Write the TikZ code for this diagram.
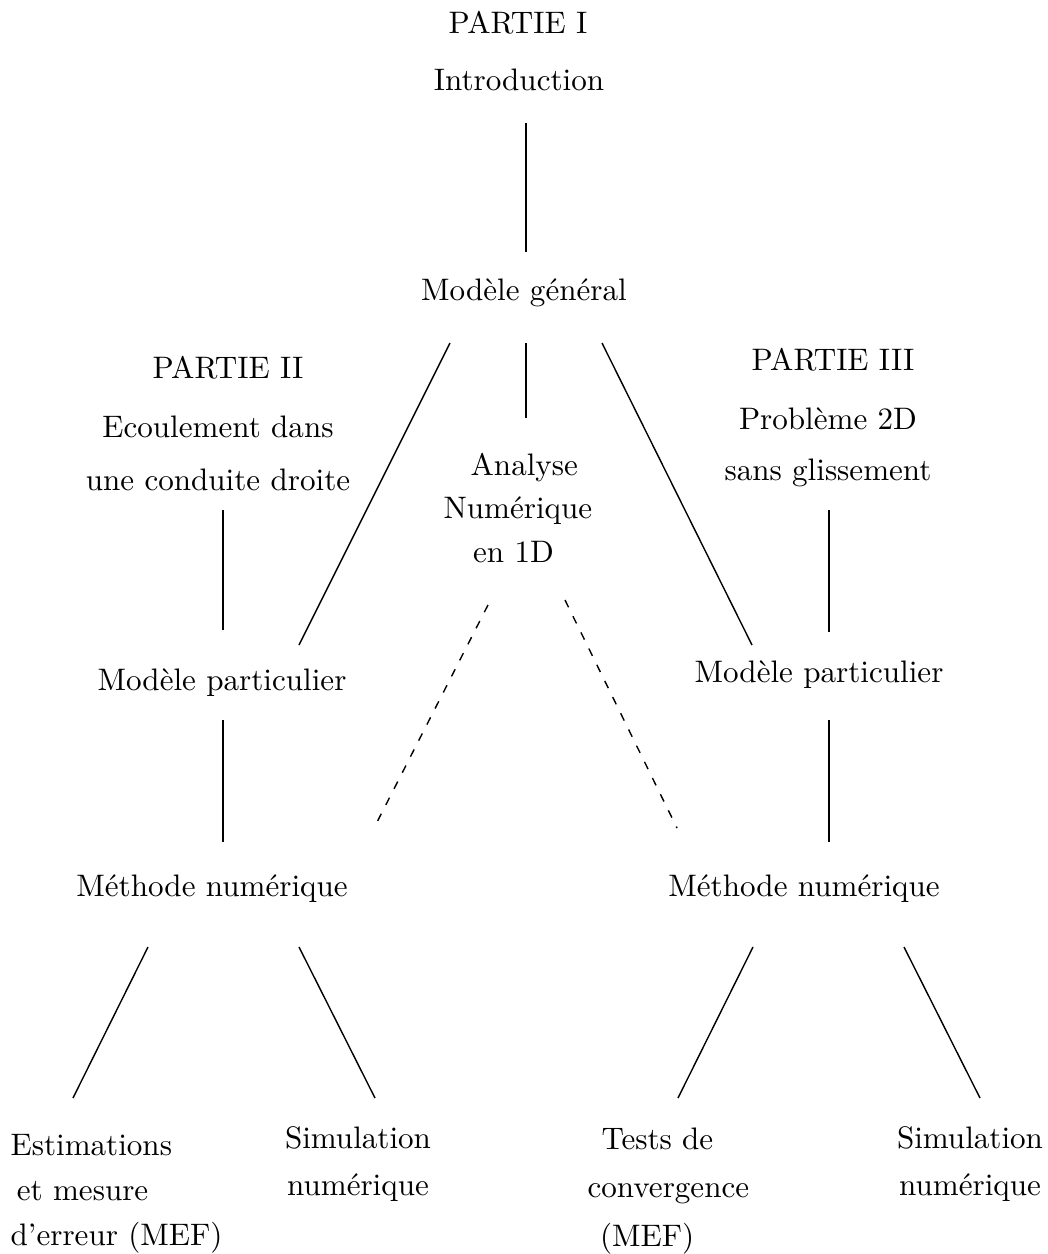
\documentclass[tikz,border=0pt]{standalone}
\usepackage{tikz}

\begin{document}
\begin{tikzpicture}[x=0.0113cm,y=-0.0113cm,
    txt/.style={inner sep=0pt,text height=1.5ex,text depth=.25ex},
    blk/.style={inner sep=0pt,align=center,font=\fontsize{10}{#1}\selectfont},
    lnk/.style={line width=.45pt},
    dashlnk/.style={lnk,dash pattern=on 2.6pt off 3.2pt}]
        \useasboundingbox (0,0) rectangle (1048,1254);
        % Titles and nodes
        \node[txt]        (p1)    at (518,25)   {PARTIE I};
        \node[txt]        (intro) at (519,82)   {Introduction};
        \node[txt]        (gen)   at (524,292)  {Modèle général};
        \node[txt]        (p2)    at (228,370)  {PARTIE II};
        \node[blk=17pt]   (ecoul) at (218,453)  {Ecoulement dans\\une conduite droite};
        \node[blk=14pt,align=left,anchor=west] (ana) at (443,508)
            {\hspace*{.87em}Analyse\\Numérique\\\hspace*{.95em}en 1D};
        \node[txt]        (p3)    at (833,362)  {PARTIE III};
        \node[blk=16.5pt] (prob)  at (828,447)  {Problème 2D\\sans glissement};
        \node[txt]        (partL) at (222,682)  {Modèle particulier};
        \node[txt]        (partR) at (819,674)  {Modèle particulier};
        \node[txt]        (methL) at (212,888)  {Méthode numérique};
        \node[txt]        (methR) at (804,888)  {Méthode numérique};
        \node[blk=14.5pt,align=left,anchor=west] (estim) at (10,1194)
            {Estimations\\\hspace*{.2em}et mesure\\d'erreur (MEF)};
        \node[blk=15pt]   (simL)  at (358,1164) {Simulation\\numérique};
        \node[blk=15.5pt,align=left,anchor=west] (tests) at (587,1191)
            {\hspace*{.45em}Tests de\\convergence\\\hspace*{.4em}(MEF)};
        \node[blk=15pt]   (simR)  at (970,1164) {Simulation\\numérique};
        % End points of the links
        \coordinate (intro-s)  at (526,123);
        \coordinate (gen-n)    at (526,252);
        \coordinate (gen-sw)   at (450,343);
        \coordinate (gen-s)    at (526,343);
        \coordinate (gen-se)   at (602,343);
        \coordinate (ana-n)    at (526,418);
        \coordinate (partL-ne) at (299,645);
        \coordinate (partR-nw) at (752,645);
        \coordinate (ecoul-s)  at (223,510);
        \coordinate (partL-n)  at (223,630);
        \coordinate (partL-s)  at (223,720);
        \coordinate (methL-n)  at (223,842);
        \coordinate (prob-s)   at (829,510);
        \coordinate (partR-n)  at (829,632);
        \coordinate (partR-s)  at (829,720);
        \coordinate (methR-n)  at (829,842);
        \coordinate (ana-sw)   at (488,605);
        \coordinate (methL-ne) at (374,828);
        \coordinate (ana-se)   at (565,600);
        \coordinate (methR-nw) at (677,828);
        \coordinate (methL-sw) at (148,947);
        \coordinate (estim-n)  at (73,1098);
        \coordinate (methL-se) at (299,947);
        \coordinate (simL-n)   at (375,1098);
        \coordinate (methR-sw) at (753,947);
        \coordinate (tests-n)  at (678,1098);
        \coordinate (methR-se) at (904,947);
        \coordinate (simR-n)   at (980,1098);
        % Connect the nodes
        \draw[lnk] (intro-s) -- (gen-n);
        \draw[lnk] (gen-sw) -- (partL-ne);
        \draw[lnk] (gen-s) -- (ana-n);
        \draw[lnk] (gen-se) -- (partR-nw);
        \draw[lnk] (ecoul-s) -- (partL-n);
        \draw[lnk] (partL-s) -- (methL-n);
        \draw[lnk] (prob-s) -- (partR-n);
        \draw[lnk] (partR-s) -- (methR-n);
        \draw[dashlnk] (ana-sw) -- (methL-ne);
        \draw[dashlnk] (ana-se) -- (methR-nw);
        \draw[lnk] (methL-sw) -- (estim-n);
        \draw[lnk] (methL-se) -- (simL-n);
        \draw[lnk] (methR-sw) -- (tests-n);
        \draw[lnk] (methR-se) -- (simR-n);
    \end{tikzpicture}
\end{document}
